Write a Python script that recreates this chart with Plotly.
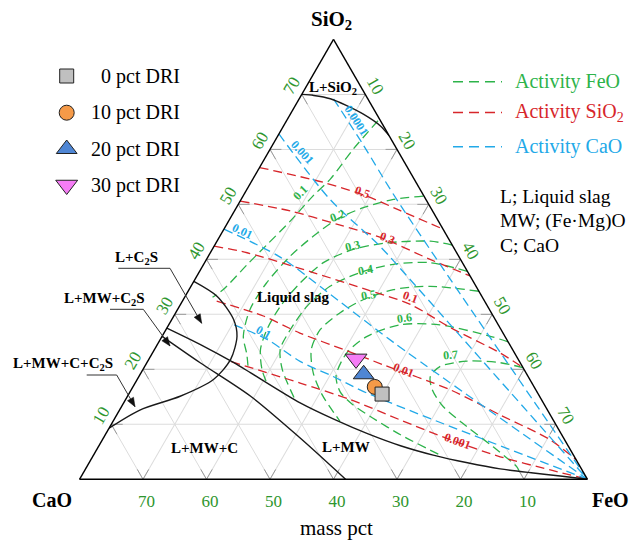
import math
import plotly.graph_objects as go

# ---------------- data (mass pct, SiO2 + CaO + FeO = 80) ----------------
tick_vals = [10, 20, 30, 40, 50, 60, 70]

dri_labels = ["0 pct DRI", "10 pct DRI", "20 pct DRI", "30 pct DRI"]
dri_sio2 = [15.5, 16.8, 19.1, 21.9]
dri_feo = [39.9, 38.1, 35.2, 32.6]

# phase boundaries
bnd_sio2sat_sio2 = [70.0, 69.8, 69.2, 68.0, 66.4, 64.3, 62.5]
bnd_sio2sat_feo = [0.0, 2.0, 4.9, 8.0, 11.5, 15.2, 17.5]
bnd_c2s_sio2 = [36.0, 33.3, 29.1, 26.0, 21.8, 18.1, 15.1, 12.6, 9.3]
bnd_c2s_feo = [0.0, 5.0, 9.7, 11.8, 12.9, 12.0, 8.3, 3.2, 0.0]
bnd_mw_sio2 = [27.5, 24.5, 21.2, 19.4, 13.9, 10.8, 8.3, 6.1, 4.4, 3.0, 1.9, 1.15, 0.6, 0.0]
bnd_mw_feo = [0.0, 6.8, 13.7, 17.2, 27.8, 34.9, 41.2, 47.5, 53.5, 59.6, 65.3, 70.9, 75.4, 80.0]
bnd_mwc_sio2 = [26.0, 21.2, 15.1, 7.5, 0.0]
bnd_mwc_feo = [0.0, 8.4, 19.4, 31.0, 41.9]

# SiO2 activity
aSiO2_05_sio2 = [56.7, 54.0, 51.5, 48.9, 45.5]
aSiO2_05_feo = [0.0, 11.4, 19.5, 26.0, 34.5]
aSiO2_03_sio2 = [50.6, 48.8, 46.4, 44.0, 40.0, 37.0]
aSiO2_03_feo = [0.0, 8.8, 17.3, 25.4, 35.2, 43.0]
aSiO2_01_sio2 = [42.4, 41.2, 37.6, 34.5, 31.8, 27.6, 23.0, 20.3]
aSiO2_01_feo = [0.0, 5.8, 18.0, 28.0, 36.2, 44.6, 54.7, 59.7]
aSiO2_001_sio2 = [32.4, 29.7, 26.6, 23.6, 20.8, 16.3, 11.7, 7.2, 3.5]
aSiO2_001_feo = [5.4, 14.1, 21.4, 29.8, 37.5, 50.2, 60.4, 70.5, 76.5]
aSiO2_0001_sio2 = [21.4, 17.5, 14.5, 10.8, 7.2, 4.1, 1.7, 0.0]
aSiO2_0001_feo = [13.2, 26.0, 35.4, 45.1, 54.8, 64.2, 73.3, 80.0]

# CaO activity
aCaO_00001_sio2 = [69.2, 60.7, 50.9, 0.0]
aCaO_00001_feo = [5.4, 14.4, 24.5, 80.0]
aCaO_0001_sio2 = [62.8, 50.9, 42.4, 35.7, 0.0]
aCaO_0001_feo = [0.0, 14.0, 26.1, 34.7, 80.0]
aCaO_001_sio2 = [45.5, 40.4, 32.7, 24.9, 0.0]
aCaO_001_feo = [0.0, 11.4, 24.2, 37.0, 80.0]
aCaO_01_sio2 = [28.1, 25.4, 21.4, 18.7, 15.7, 0.0]
aCaO_01_feo = [10.3, 16.9, 24.1, 30.6, 37.4, 80.0]

# FeO activity
aFeO_01_sio2 = [65.2, 60.1, 54.6, 51.5, 46.9, 42.7, 39.1, 34.5, 33.1]
aFeO_01_feo = [14.4, 13.1, 12.2, 11.0, 9.7, 8.2, 6.9, 5.4, 4.4]
aFeO_02_sio2 = [51.5, 50.9, 49.4, 47.3, 44.2, 40.6, 35.7, 30.9, 26.0, 22.7, 19.6]
aFeO_02_feo = [28.4, 24.0, 20.0, 16.9, 14.7, 12.9, 11.6, 11.4, 12.8, 15.0, 16.8]
aFeO_03_sio2 = [42.6, 43.3, 43.0, 41.8, 39.4, 35.7, 31.5, 27.2, 23.6, 19.9, 17.0]
aFeO_03_feo = [37.4, 33.6, 26.9, 22.2, 18.7, 16.9, 15.9, 15.9, 16.7, 18.8, 21.2]
aFeO_04_sio2 = [37.8, 39.4, 39.1, 37.6, 35.1, 31.5, 27.2, 23.6, 19.9, 14.6]
aFeO_04_feo = [42.2, 35.5, 29.9, 25.4, 21.9, 20.1, 19.6, 19.8, 22.0, 26.6]
aFeO_05_sio2 = [34.2, 35.1, 34.5, 32.7, 30.3, 27.2, 23.6, 19.4, 15.4, 10.6]
aFeO_05_feo = [45.8, 37.7, 32.2, 28.4, 25.9, 24.3, 24.7, 27.1, 30.5, 35.7]
aFeO_06_sio2 = [25.0, 26.0, 28.1, 28.1, 26.0, 23.0, 18.8, 15.9, 13.6, 11.2, 8.1, 4.4]
aFeO_06_feo = [55.0, 51.7, 42.7, 36.4, 32.3, 30.6, 31.0, 33.1, 36.2, 40.5, 46.5, 54.6]
aFeO_07_sio2 = [20.3, 21.2, 21.5, 20.5, 18.7, 16.3, 13.2, 9.6, 5.9, 2.3, 1.6]
aFeO_07_feo = [59.7, 55.7, 50.3, 46.5, 45.9, 47.4, 50.7, 56.2, 62.2, 67.7, 68.4]

# ---------------- styles ----------------
GREEN = "#2db34a"
RED = "#d7262b"
BLUE = "#22a9e8"
TICK_GREEN = "#2e962e"
SERIF = "Liberation Serif"
DASH = "9px,5px"
TOTAL = 80
TICK_LEN = 1.8  # tick mark length in mass pct along the grid lines

fig = go.Figure()

# darker "inside" tick marks along both grid directions at every edge tick
tk_a, tk_c = [], []
for v in tick_vals:
    w = TOTAL - v
    segs = [((v, 0), (v, TICK_LEN)), ((v, 0), (v - TICK_LEN, TICK_LEN)),          # left edge
            ((0, w), (TICK_LEN, w - TICK_LEN)), ((0, w), (TICK_LEN, w)),          # bottom edge
            ((w, v), (w - TICK_LEN, v)), ((w, v), (w, v - TICK_LEN))]             # right edge
    for (a0, c0), (a1, c1) in segs:
        tk_a += [a0, a1, None]
        tk_c += [c0, c1, None]
fig.add_trace(go.Scatterternary(a=tk_a, c=tk_c, mode="lines",
                                line=dict(color="#9a9a9a", width=1),
                                hoverinfo="skip", showlegend=False))


def tern_line(a, c, color, dash=None, width=1.3):
    fig.add_trace(go.Scatterternary(
        a=a, c=c, mode="lines",
        line=dict(color=color, width=width, dash=dash, shape="spline", smoothing=0.8),
        hoverinfo="skip", showlegend=False))


for a, c in [(aFeO_01_sio2, aFeO_01_feo), (aFeO_02_sio2, aFeO_02_feo),
             (aFeO_03_sio2, aFeO_03_feo), (aFeO_04_sio2, aFeO_04_feo),
             (aFeO_05_sio2, aFeO_05_feo), (aFeO_06_sio2, aFeO_06_feo),
             (aFeO_07_sio2, aFeO_07_feo)]:
    tern_line(a, c, GREEN, DASH)
for a, c in [(aSiO2_05_sio2, aSiO2_05_feo), (aSiO2_03_sio2, aSiO2_03_feo),
             (aSiO2_01_sio2, aSiO2_01_feo), (aSiO2_001_sio2, aSiO2_001_feo),
             (aSiO2_0001_sio2, aSiO2_0001_feo)]:
    tern_line(a, c, RED, DASH)
for a, c in [(aCaO_00001_sio2, aCaO_00001_feo), (aCaO_0001_sio2, aCaO_0001_feo),
             (aCaO_001_sio2, aCaO_001_feo), (aCaO_01_sio2, aCaO_01_feo)]:
    tern_line(a, c, BLUE, DASH)
for a, c in [(bnd_sio2sat_sio2, bnd_sio2sat_feo), (bnd_c2s_sio2, bnd_c2s_feo),
             (bnd_mw_sio2, bnd_mw_feo), (bnd_mwc_sio2, bnd_mwc_feo)]:
    tern_line(a, c, "#1a1a1a", None, 1.4)

symbols = ["square", "circle", "triangle-up", "triangle-down"]
fills = ["#c0c0c0", "#f59a48", "#4f86d4", "#f57cf5"]
sizes = [14, 15, 18, 19]
for i in range(len(dri_labels) - 1, -1, -1):
    fig.add_trace(go.Scatterternary(
        a=[dri_sio2[i]], c=[dri_feo[i]], mode="markers", name=dri_labels[i],
        marker=dict(symbol=symbols[i], size=sizes[i], color=fills[i],
                    line=dict(color="#222", width=1)),
        showlegend=False, hoverinfo="skip"))

# legend glyphs (overlay pixel axes)
leg_y = [76, 112.7, 149, 185]
for i in range(len(dri_labels)):
    fig.add_trace(go.Scatter(
        x=[66.7], y=[leg_y[i]], mode="markers",
        marker=dict(symbol=symbols[i], size=sizes[i], color=fills[i],
                    line=dict(color="#222", width=1)),
        showlegend=False, hoverinfo="skip", xaxis="x", yaxis="y"))
act_names = ["Activity FeO", "Activity SiO<sub>2</sub>", "Activity CaO"]
act_colors = [GREEN, RED, BLUE]
act_y = [81.7, 112.5, 146.7]
for i in range(3):
    fig.add_trace(go.Scatter(
        x=[453, 502], y=[act_y[i], act_y[i]], mode="lines",
        line=dict(color=act_colors[i], width=1.6, dash="10px,6px"),
        showlegend=False, hoverinfo="skip", xaxis="x", yaxis="y"))

ann = []


def txt(x, y, s, size=15, color="black", bold=False, angle=0, xanchor="center"):
    ann.append(dict(x=x, y=y, xref="x", yref="y", text=("<b>%s</b>" % s) if bold else s,
                    showarrow=False, textangle=angle, xanchor=xanchor, yanchor="middle",
                    font=dict(family=SERIF, size=size, color=color)))


# legend texts
for i in range(len(dri_labels)):
    txt(182, leg_y[i], dri_labels[i], 20, "black", xanchor="right")
for i in range(3):
    txt(513, act_y[i], act_names[i], 20, act_colors[i], xanchor="left")
txt(498, 196.7, "L; Liquid slag", 19.5, xanchor="left")
txt(498, 220.5, "MW; (Fe·Mg)O", 19.5, xanchor="left")
txt(498, 245, "C; CaO", 19.5, xanchor="left")

# axis titles
txt(331.7, 20, "SiO<sub>2</sub>", 21, bold=True)
txt(52, 500, "CaO", 20, bold=True)
txt(610, 500, "FeO", 20, bold=True)
txt(336.7, 528, "mass pct", 21)

# region labels
txt(333, 88, "L+SiO<sub>2</sub>", 15, bold=True)
txt(293, 297, "Liquid slag", 15, bold=True)
txt(204, 448, "L+MW+C", 15, bold=True)
txt(346, 447, "L+MW", 15, bold=True)
txt(136, 258, "L+C<sub>2</sub>S", 15, bold=True)
txt(104, 299, "L+MW+C<sub>2</sub>S", 15, bold=True)
txt(62.5, 364, "L+MW+C+C<sub>2</sub>S", 15, bold=True)

# contour labels
for x, y, s, ang in [(300, 193, "0.1", -46), (337, 216, "0.2", -20), (352, 246, "0.3", -14),
                     (365, 270, "0.4", -10), (368, 295, "0.5", -9), (404, 318, "0.6", -8),
                     (450, 355, "0.7", -5)]:
    txt(x, y, s, 12, GREEN, True, ang)
for x, y, s, ang in [(362, 192, "0.5", 20), (387, 238, "0.3", 20), (410, 297, "0.1", 20),
                     (403, 370, "0.01", 22), (457, 441, "0.001", 20)]:
    txt(x, y, s, 12, RED, True, ang)
for x, y, s, ang in [(356, 120, "0.0001", 57), (302, 152, "0.001", 48),
                     (242, 231, "0.01", 25), (263, 332, "0.1", 28)]:
    txt(x, y, s, 12, BLUE, True, ang)

# leader lines with arrow heads
shapes = []
for (x0, x1, y0, hx, hy) in [(118.3, 170, 268.3, 201.7, 323.3),
                             (110, 143.3, 309.3, 170, 346),
                             (86.7, 116.7, 375, 135, 406.7)]:
    shapes.append(dict(type="line", xref="x", yref="y", x0=x0, x1=x1, y0=y0, y1=y0,
                       line=dict(color="#333", width=1)))
    shapes.append(dict(type="line", xref="x", yref="y", x0=x1, x1=hx, y0=y0, y1=hy,
                       line=dict(color="#333", width=1)))
    dx, dy = hx - x1, hy - y0
    n = math.hypot(dx, dy)
    ux, uy = dx / n, dy / n
    px, py = -uy, ux
    bx, by = hx - 9 * ux, hy - 9 * uy
    path = "M %.2f %.2f L %.2f %.2f L %.2f %.2f Z" % (
        hx, hy, bx + 3.5 * px, by + 3.5 * py, bx - 3.5 * px, by - 3.5 * py)
    shapes.append(dict(type="path", xref="x", yref="y", path=path,
                       fillcolor="#111", line=dict(color="#111", width=0.5)))

axis_common = dict(tickvals=tick_vals, ticks="", linecolor="black", linewidth=1.4,
                   showgrid=True, gridcolor="#dcdcdc", gridwidth=0.8, min=0,
                   title=dict(text=""),
                   tickfont=dict(family=SERIF, size=17, color=TICK_GREEN))

fig.update_layout(
    width=633, height=544, margin=dict(l=0, r=0, t=0, b=0),
    paper_bgcolor="white", plot_bgcolor="rgba(0,0,0,0)", showlegend=False,
    hovermode=False,
    ternary=dict(
        sum=TOTAL, bgcolor="white",
        domain=dict(x=[79.3 / 633, 587.7 / 633], y=[(544 - 479.3) / 544, (544 - 39.4) / 544]),
        aaxis=dict(axis_common, tickangle=-60),
        baxis=dict(axis_common, tickangle=0, ticks="outside", ticklen=7,
                   tickcolor="rgba(0,0,0,0)"),
        caxis=dict(axis_common, tickangle=60),
    ),
    xaxis=dict(range=[0, 633], visible=False, domain=[0, 1], fixedrange=True),
    yaxis=dict(range=[544, 0], visible=False, domain=[0, 1], fixedrange=True),
    annotations=ann, shapes=shapes,
)

fig.write_html(
    "out.html",
    config={"displayModeBar": False},
    post_script="document.body.style.margin='0px';document.body.style.overflow='hidden';",
)
